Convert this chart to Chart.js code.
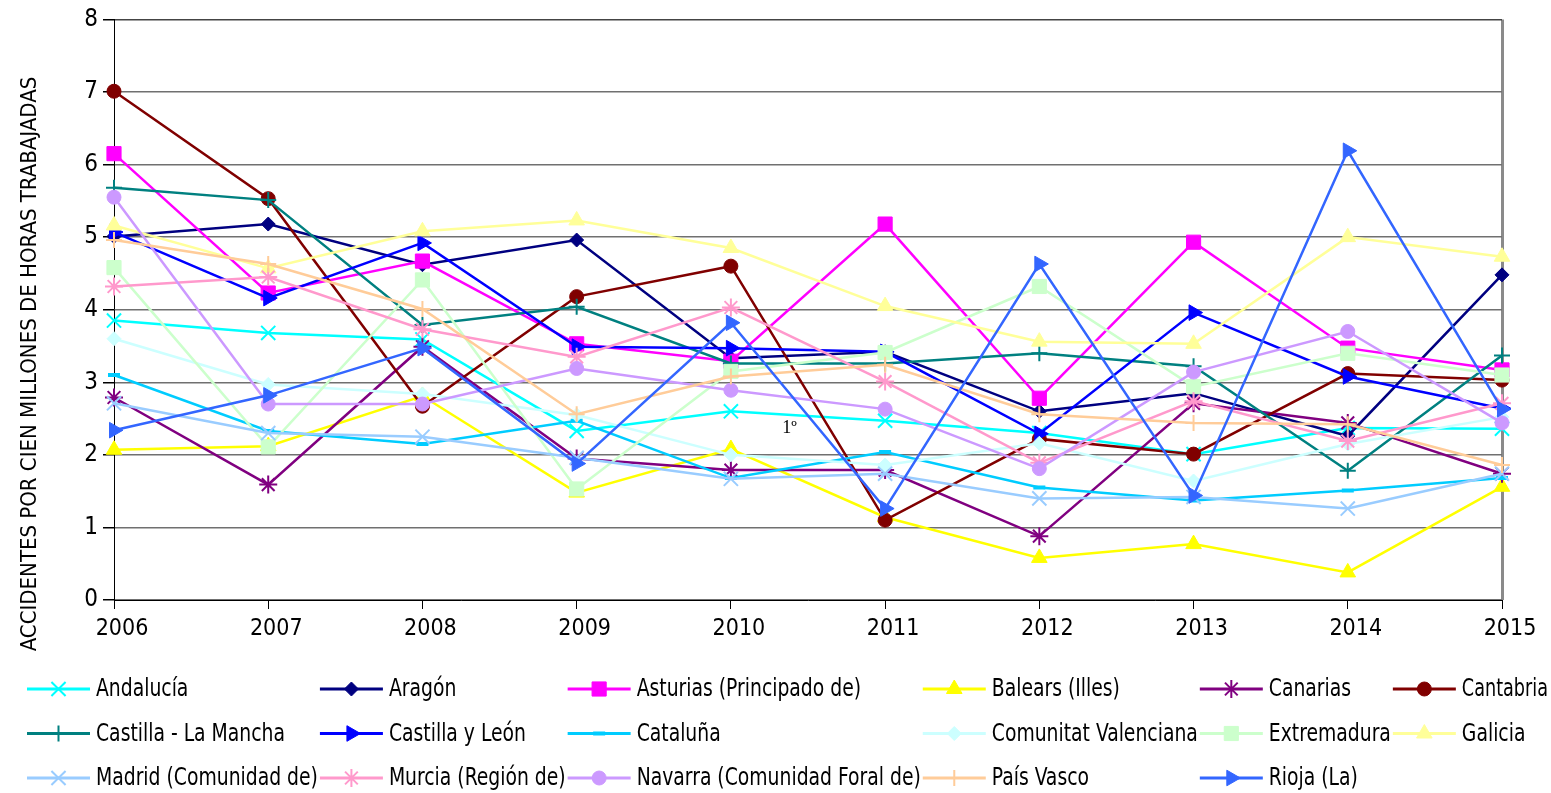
<!DOCTYPE html>
<html>
<head>
<meta charset="utf-8">
<script src="https://cdn.jsdelivr.net/npm/chart.js@4.4.0/dist/chart.umd.min.js"></script>
<style>
  html, body { margin: 0; padding: 0; background: #fff; }
  #wrap { width: 1551px; height: 793px; position: relative; }
</style>
</head>
<body>
<div id="wrap"><canvas id="chart1"></canvas></div>
<script>
// Accidents per hundred million hours worked, by region, 2006-2015
const years = ["2006", "2007", "2008", "2009", "2010", "2011", "2012", "2013", "2014", "2015"];
const yTicks = [0, 1, 2, 3, 4, 5, 6, 7, 8];

const andalucia        = [3.85, 3.68, 3.59, 2.33, 2.60, 2.47, 2.30, 2.01, 2.37, 2.36];
const aragon           = [5.01, 5.18, 4.62, 4.96, 3.33, 3.42, 2.60, 2.85, 2.26, 4.48];
const asturias         = [6.15, 4.23, 4.67, 3.53, 3.29, 5.18, 2.78, 4.93, 3.47, 3.17];
const baleares         = [2.07, 2.12, 2.81, 1.48, 2.08, 1.14, 0.58, 0.77, 0.38, 1.56];
const canarias         = [2.79, 1.59, 3.49, 1.95, 1.79, 1.79, 0.88, 2.71, 2.44, 1.74];
const cantabria        = [7.01, 5.53, 2.67, 4.18, 4.60, 1.10, 2.22, 2.01, 3.12, 3.03];
const castillaLaMancha = [5.68, 5.51, 3.79, 4.04, 3.26, 3.26, 3.40, 3.22, 1.78, 3.37];
const castillaLeon     = [5.07, 4.16, 4.92, 3.49, 3.47, 3.42, 2.29, 3.96, 3.08, 2.64];
const cataluna         = [3.10, 2.33, 2.15, 2.47, 1.68, 2.04, 1.55, 1.37, 1.51, 1.68];
const valenciana       = [3.60, 2.97, 2.84, 2.55, 2.00, 1.86, 2.16, 1.64, 2.15, 2.52];
const extremadura      = [4.58, 2.11, 4.41, 1.53, 3.15, 3.41, 4.32, 2.94, 3.40, 3.10];
const galicia          = [5.16, 4.57, 5.08, 5.23, 4.85, 4.05, 3.56, 3.53, 5.00, 4.73];
const madrid           = [2.71, 2.30, 2.25, 1.96, 1.67, 1.74, 1.40, 1.42, 1.26, 1.74];
const murcia           = [4.32, 4.45, 3.73, 3.35, 4.03, 3.01, 1.89, 2.74, 2.19, 2.71];
const navarra          = [5.55, 2.70, 2.70, 3.19, 2.89, 2.63, 1.81, 3.14, 3.70, 2.44];
const paisVasco        = [4.96, 4.63, 4.01, 2.56, 3.08, 3.24, 2.56, 2.44, 2.42, 1.86];
const rioja            = [2.34, 2.82, 3.47, 1.88, 3.82, 1.26, 4.63, 1.44, 6.19, 2.63];

const FONT = '"Liberation Sans Narrow", "DejaVu Sans Condensed", "Arial Narrow", sans-serif';
const yTitle = "ACCIDENTES POR CIEN MILLONES DE HORAS TRABAJADAS";

function series(label, data, color, style, radius, rotation, bw) {
  return {
    label: label,
    data: data,
    borderColor: color,
    backgroundColor: color,
    pointBackgroundColor: color,
    pointBorderColor: color,
    pointStyle: style,
    pointRadius: radius,
    pointRotation: rotation || 0,
    pointBorderWidth: bw || 1,
    borderWidth: 2.5,
    fill: false,
    tension: 0
  };
}

const datasets = [
  series("Andalucía", andalucia, "#00FFFF", "crossRot", 10, 0, 2),
  series("Aragón", aragon, "#000080", "rectRot", 7),
  series("Asturias (Principado de)", asturias, "#FF00FF", "rect", 10),
  series("Balears (Illes)", baleares, "#FFFF00", "triangle", 9),
  series("Canarias", canarias, "#800080", "star", 9, 0, 2),
  series("Cantabria", cantabria, "#800000", "circle", 7),
  series("Castilla - La Mancha", castillaLaMancha, "#008080", "cross", 8, 0, 2),
  series("Castilla y León", castillaLeon, "#0000FF", "triangle", 9, 90),
  series("Cataluña", cataluna, "#00CCFF", "line", 6, 0, 4),
  series("Comunitat Valenciana", valenciana, "#CCFFFF", "rectRot", 7),
  series("Extremadura", extremadura, "#CCFFCC", "rect", 10),
  series("Galicia", galicia, "#FFFF99", "triangle", 9),
  series("Madrid (Comunidad de)", madrid, "#99CCFF", "crossRot", 10, 0, 2),
  series("Murcia (Región de)", murcia, "#FF99CC", "star", 9, 0, 2),
  series("Navarra (Comunidad Foral de)", navarra, "#CC99FF", "circle", 7),
  series("País Vasco", paisVasco, "#FFCC99", "cross", 8, 0, 2),
  series("Rioja (La)", rioja, "#3366FF", "triangle", 9, 90)
];
// later series drawn on top, like the original
datasets.forEach((d, i) => { d.order = datasets.length - i; });

const TEXT_SQUEEZE = 0.87;

const extras = {
  id: "extras",
  afterDraw(chart) {
    const ctx = chart.ctx;
    ctx.save();
    // rotated axis title
    ctx.font = "22px " + FONT;
    ctx.fillStyle = "#000";
    ctx.textAlign = "center";
    ctx.textBaseline = "middle";
    ctx.translate(30, 364);
    ctx.rotate(-Math.PI / 2);
    ctx.fillText(yTitle, 0, 0);
    ctx.restore();

    // stray label inside the plot
    ctx.save();
    ctx.font = '18px "Liberation Serif", serif';
    ctx.fillStyle = "#000";
    ctx.textAlign = "center";
    ctx.textBaseline = "middle";
    ctx.fillText("1º", chart.scales.x.getPixelForValue(4.38), chart.scales.y.getPixelForValue(2.37));
    ctx.restore();

    // legend as a grid of 6 columns
    ctx.save();
    ctx.font = "24px " + FONT;
    const sets = chart.data.datasets;
    const cols = 6;
    const widths = [];
    sets.forEach((ds, i) => {
      const c = i % cols;
      widths[c] = Math.max(widths[c] || 0, ctx.measureText(ds.label).width * TEXT_SQUEEZE);
    });
    const xs = [27];
    for (let c = 0; c < cols - 1; c++) xs.push(xs[c] + 63 + 6 + widths[c] + 2);
    sets.forEach((ds, i) => {
      const x = xs[i % cols];
      const y = 689 + Math.floor(i / cols) * 44.5;
      ctx.strokeStyle = ds.borderColor;
      ctx.lineWidth = 3;
      ctx.beginPath();
      ctx.moveTo(x, y);
      ctx.lineTo(x + 63, y);
      ctx.stroke();
      ctx.fillStyle = ds.pointBackgroundColor;
      ctx.lineWidth = ds.pointBorderWidth;
      Chart.helpers.drawPoint(ctx, {
        pointStyle: ds.pointStyle,
        rotation: ds.pointRotation,
        radius: ds.pointRadius,
        borderWidth: ds.pointBorderWidth
      }, x + 31.5, y);
      // keep the last column inside the canvas
      const tx = x + 69;
      const raw = ctx.measureText(ds.label).width;
      const sq = Math.min(TEXT_SQUEEZE, (chart.width - 3 - tx) / raw);
      ctx.save();
      ctx.fillStyle = "#000";
      ctx.textAlign = "left";
      ctx.textBaseline = "middle";
      ctx.translate(tx, y + 1);
      ctx.scale(sq, 1);
      ctx.fillText(ds.label, 0, 0);
      ctx.restore();
    });
    ctx.restore();
  }
};

const ctx = document.getElementById("chart1").getContext("2d");
new Chart(ctx, {
  type: "line",
  data: { labels: years, datasets: datasets },
  options: {
    responsive: true,
    maintainAspectRatio: false,
    animation: false,
    layout: { padding: { top: 16, right: 49, left: 0, bottom: 0 } },
    plugins: {
      legend: { display: false },
      tooltip: { enabled: false }
    },
    scales: {
      x: {
        offset: false,
        afterFit: s => { s.height = 193; },
        border: { color: "#000", width: 1 },
        grid: {
          drawOnChartArea: true,
          color: c => c.index === years.length - 1 ? "#8a8a8a" : "rgba(0,0,0,0)",
          lineWidth: c => c.index === years.length - 1 ? 3 : 1,
          tickColor: "#000",
          tickWidth: 1,
          tickLength: 9
        },
        ticks: {
          color: "#000",
          font: { family: FONT, size: 23 },
          padding: 6,
          labelOffset: 8,
          maxRotation: 0
        }
      },
      y: {
        min: 0,
        max: 8,
        afterFit: s => { s.width = 114; },
        afterBuildTicks: s => { s.ticks = yTicks.map(v => ({ value: v })); },
        border: { color: "#000", width: 1 },
        grid: {
          color: c => c.index === yTicks.length - 1 ? "#444" : "#707070",
          lineWidth: 1.5,
          tickColor: "#000",
          tickLength: 11
        },
        ticks: {
          color: "#000",
          font: { family: FONT, size: 24 },
          padding: 5
        }
      }
    }
  },
  plugins: [extras]
});
</script>
</body>
</html>
